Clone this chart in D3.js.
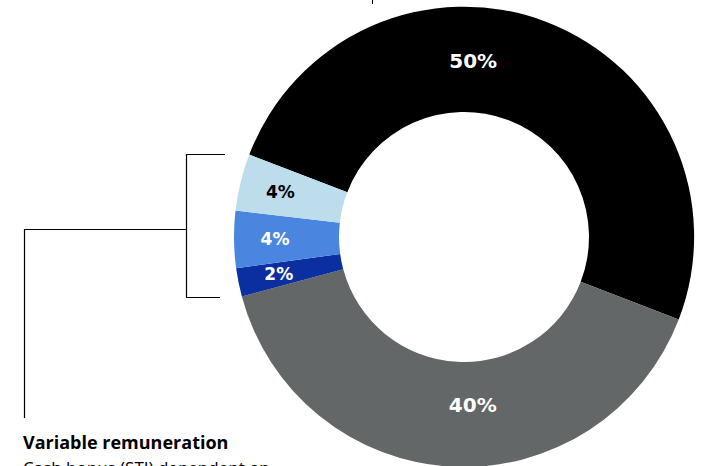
<!DOCTYPE html>
<html>
<head>
<meta charset="utf-8">
<script src="https://cdn.jsdelivr.net/npm/d3@7"></script>
<style>
    body { margin: 0; background: #fff; }
    svg { display: block; }
</style>
</head>
<body>
<script>
// Remuneration mix, clockwise from the upper left
var categories = ["Base salary", "Pension & benefits", "STI part A",
                  "STI part B", "LTI"];
var shares = [50, 40, 2, 4, 4];
var labels = ["50%", "40%", "2%", "4%", "4%"];
var colors = ["#000000", "#636767", "#0b2fa0", "#4a86e0", "#bddcec"];
var labelColors = ["#fff", "#fff", "#fff", "#fff", "#000"];

var width = 702,
    height = 466,
    cx = 464,
    cy = 237,
    outerR = 230,
    innerR = 125;

var svg = d3.select("body").append("svg")
    .attr("width", width)
    .attr("height", height);

var data = categories.map(function(c, i) {
    return {key: c, value: shares[i], label: labels[i],
            color: colors[i], textColor: labelColors[i]};
});

// black slice starts at about 291 degrees (clockwise from 12 o'clock)
var start = -69 * Math.PI / 180;
var pie = d3.pie()
    .sort(null)
    .value(function(d) { return d.value; })
    .startAngle(start)
    .endAngle(start + 2 * Math.PI);

var arc = d3.arc().innerRadius(innerR).outerRadius(outerR);

var g = svg.append("g")
    .attr("transform", "translate(" + cx + "," + cy + ")");

var arcs = pie(data);

g.selectAll("path")
    .data(arcs)
    .enter()
    .append("path")
    .attr("d", arc)
    .attr("fill", function(d) { return d.data.color; });

// big slices get labels near top / bottom, small ones at mid angle
function labelPos(d) {
    var big = d.data.value >= 40;
    var a, r;
    if (big) {
        a = d.data.value === 50 ? 3 * Math.PI / 180 : 177 * Math.PI / 180;
        r = d.data.value === 50 ? 176 : 168;
    } else {
        a = (d.startAngle + d.endAngle) / 2;
        r = 189;
    }
    return [r * Math.sin(a), -r * Math.cos(a)];
}

g.selectAll("text.pct")
    .data(arcs)
    .enter()
    .append("text")
    .attr("class", "pct")
    .attr("x", function(d) { return labelPos(d)[0]; })
    .attr("y", function(d) { return labelPos(d)[1]; })
    .attr("dy", "0.36em")
    .attr("text-anchor", "middle")
    .attr("font-family", "'DejaVu Sans', sans-serif")
    .attr("font-weight", 700)
    .attr("font-size", function(d) {
        return d.data.value >= 40 ? "20px" : "17px";
    })
    .attr("fill", function(d) { return d.data.textColor; })
    .text(function(d) { return d.data.label; });

// bracket for the variable parts
var line = d3.line();
svg.append("path")
    .attr("d", line([[225, 154.5], [186.5, 154.5], [186.5, 297.5],
                     [220, 297.5]]))
    .attr("fill", "none")
    .attr("stroke", "#000")
    .attr("stroke-width", 1.2);
svg.append("path")
    .attr("d", line([[186.5, 229.5], [24.5, 229.5], [24.5, 418]]))
    .attr("fill", "none")
    .attr("stroke", "#000")
    .attr("stroke-width", 1.2);

// leader stub at the very top
svg.append("line")
    .attr("x1", 372.5).attr("x2", 372.5)
    .attr("y1", 0).attr("y2", 4)
    .attr("stroke", "#000")
    .attr("stroke-width", 1);

svg.append("text")
    .attr("x", 23)
    .attr("y", 449)
    .attr("font-family", "'Open Sans', sans-serif")
    .attr("font-weight", 700)
    .attr("font-size", "18px")
    .attr("fill", "#000")
    .text("Variable remuneration");

// second line is cropped at the bottom edge, as in the source
svg.append("text")
    .attr("x", 23)
    .attr("y", 474)
    .attr("font-family", "'Open Sans', sans-serif")
    .attr("font-size", "17px")
    .attr("fill", "#000")
    .text("Cash bonus (STI) dependent on");
</script>
</body>
</html>
